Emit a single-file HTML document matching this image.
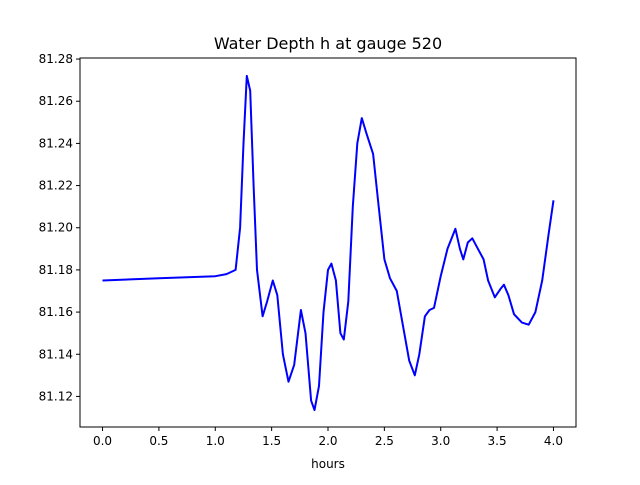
<!DOCTYPE html>
<html><head><meta charset="utf-8"><style>
body{margin:0;background:#fff;}
svg text{font-family:"DejaVu Sans","Liberation Sans",sans-serif;fill:#000;}
</style></head><body>
<svg id="chart" width="640" height="480" xmlns="http://www.w3.org/2000/svg">
<rect x="0" y="0" width="640" height="480" fill="#fff"/>
<text x="328" y="49" font-size="16" text-anchor="middle">Water Depth h at gauge 520</text>
<text x="328" y="468" font-size="12" text-anchor="middle">hours</text>
<g id="axes"></g>
<polyline id="line" fill="none" stroke="#0000ff" stroke-width="2" stroke-linejoin="round"/>
<rect x="80" y="58" width="496" height="369" fill="none" stroke="#000" stroke-width="1"/>
</svg>
<script>
const hours=[0,0.5,1.0,1.1,1.18,1.22,1.25,1.28,1.31,1.34,1.37,1.42,1.46,1.51,1.55,1.6,1.65,1.7,1.76,1.8,1.85,1.88,1.92,1.96,2.0,2.03,2.07,2.11,2.14,2.18,2.22,2.26,2.3,2.34,2.4,2.45,2.5,2.55,2.61,2.66,2.72,2.77,2.81,2.86,2.9,2.94,3.0,3.06,3.13,3.17,3.2,3.24,3.28,3.33,3.38,3.42,3.48,3.53,3.56,3.6,3.65,3.72,3.78,3.84,3.9,3.96,4.0];
const depth=[81.175,81.176,81.177,81.178,81.180,81.20,81.24,81.272,81.265,81.22,81.18,81.158,81.165,81.175,81.168,81.14,81.127,81.135,81.161,81.15,81.118,81.1135,81.125,81.16,81.18,81.183,81.175,81.15,81.147,81.165,81.21,81.24,81.252,81.245,81.235,81.21,81.185,81.176,81.17,81.155,81.137,81.13,81.14,81.158,81.161,81.162,81.177,81.19,81.1995,81.19,81.185,81.193,81.195,81.19,81.185,81.175,81.167,81.171,81.173,81.168,81.159,81.155,81.154,81.16,81.175,81.198,81.213];
const xTicks=[0,0.5,1.0,1.5,2.0,2.5,3.0,3.5,4.0];
const xTickLabels=["0.0","0.5","1.0","1.5","2.0","2.5","3.0","3.5","4.0"];
const yTicks=[81.12,81.14,81.16,81.18,81.20,81.22,81.24,81.26,81.28];
const yTickLabels=["81.12","81.14","81.16","81.18","81.20","81.22","81.24","81.26","81.28"];
const L=80,R=576,T=58,B=427,X0=-0.2,X1=4.2,Y0=81.1055,Y1=81.2805;
function sx(v){return L+(v-X0)/(X1-X0)*(R-L);}
function sy(v){return B-(v-Y0)/(Y1-Y0)*(B-T);}
const NS="http://www.w3.org/2000/svg",g=document.getElementById('axes');
xTicks.forEach((t,i)=>{
 const x=sx(t);
 const ln=document.createElementNS(NS,'line');
 ln.setAttribute('x1',x);ln.setAttribute('x2',x);ln.setAttribute('y1',B);ln.setAttribute('y2',B+4);ln.setAttribute('stroke','#000');
 
 
 g.appendChild(ln);
 const tx=document.createElementNS(NS,'text');
 tx.setAttribute('x',x);tx.setAttribute('y',B+18);tx.setAttribute('font-size','12');tx.setAttribute('text-anchor','middle');
 tx.textContent=xTickLabels[i];
 
 
 g.appendChild(tx);
});
yTicks.forEach((t,i)=>{
 const y=sy(t);
 const ln=document.createElementNS(NS,'line');
 ln.setAttribute('x1',L-4);ln.setAttribute('x2',L);ln.setAttribute('y1',y);ln.setAttribute('y2',y);ln.setAttribute('stroke','#000');
 
 
 g.appendChild(ln);
 const tx=document.createElementNS(NS,'text');
 tx.setAttribute('x',L-7);tx.setAttribute('y',y+4);tx.setAttribute('font-size','12');tx.setAttribute('text-anchor','end');
 tx.textContent=yTickLabels[i];
 
 
 g.appendChild(tx);
});
document.getElementById('line').setAttribute('points',hours.map((h,i)=>sx(h).toFixed(1)+','+sy(depth[i]).toFixed(1)).join(' '));
</script>
</body></html>
